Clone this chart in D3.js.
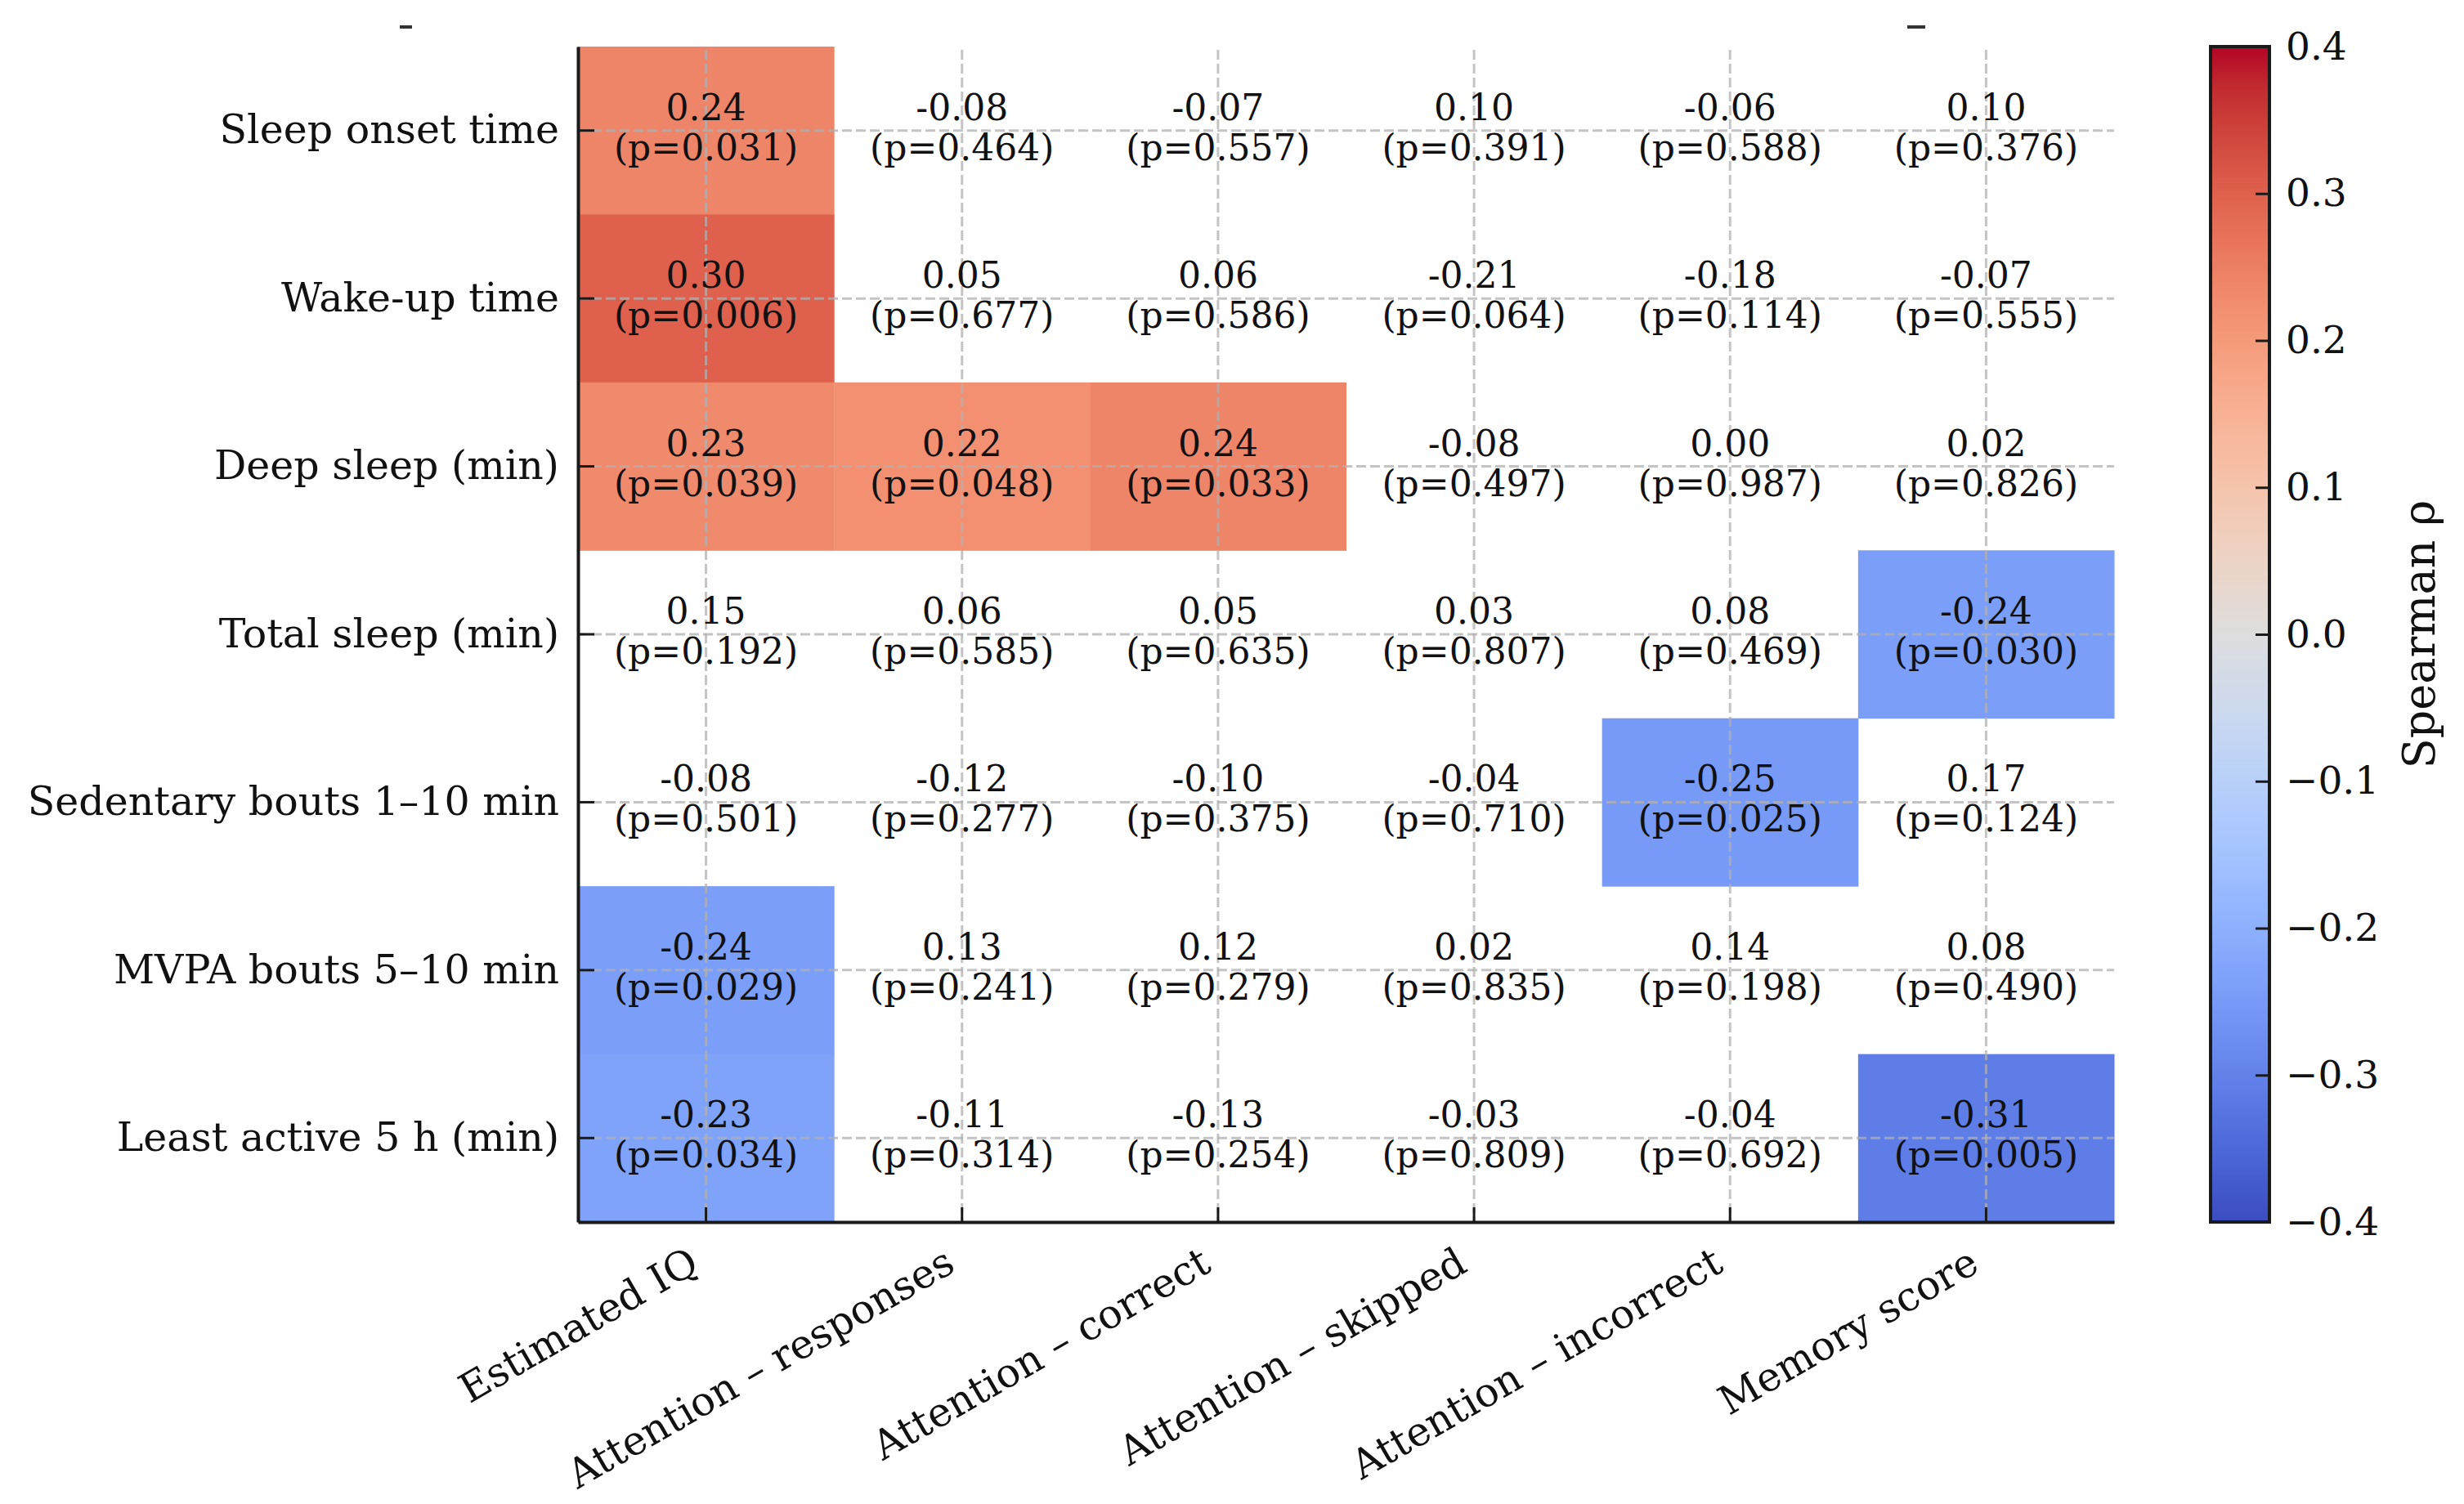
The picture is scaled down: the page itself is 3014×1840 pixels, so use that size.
<!DOCTYPE html>
<html>
<head>
<meta charset="utf-8">
<script src="https://cdn.jsdelivr.net/npm/d3@7"></script>
<style>
  body { margin: 0; background: #fff; }
  text { font-family: "DejaVu Serif", serif; fill: #111; }
</style>
</head>
<body>
<svg id="chart" width="3014" height="1840"></svg>
<script>
// -- data -- //
let rowLabels = ["Sleep onset time", "Wake-up time", "Deep sleep (min)", "Total sleep (min)",
                 "Sedentary bouts 1–10 min", "MVPA bouts 5–10 min", "Least active 5 h (min)"];
let colLabels = ["Estimated IQ", "Attention – responses", "Attention – correct",
                 "Attention – skipped", "Attention – incorrect", "Memory score"];

let rhoValues = [
  [ 0.24, -0.08, -0.07,  0.10, -0.06,  0.10],
  [ 0.30,  0.05,  0.06, -0.21, -0.18, -0.07],
  [ 0.23,  0.22,  0.24, -0.08,  0.00,  0.02],
  [ 0.15,  0.06,  0.05,  0.03,  0.08, -0.24],
  [-0.08, -0.12, -0.10, -0.04, -0.25,  0.17],
  [-0.24,  0.13,  0.12,  0.02,  0.14,  0.08],
  [-0.23, -0.11, -0.13, -0.03, -0.04, -0.31]
];
let pValues = [
  [0.031, 0.464, 0.557, 0.391, 0.588, 0.376],
  [0.006, 0.677, 0.586, 0.064, 0.114, 0.555],
  [0.039, 0.048, 0.033, 0.497, 0.987, 0.826],
  [0.192, 0.585, 0.635, 0.807, 0.469, 0.030],
  [0.501, 0.277, 0.375, 0.710, 0.025, 0.124],
  [0.029, 0.241, 0.279, 0.835, 0.198, 0.490],
  [0.034, 0.314, 0.254, 0.809, 0.692, 0.005]
];
let colorbarTicks = [-0.4, -0.3, -0.2, -0.1, 0.0, 0.1, 0.2, 0.3, 0.4];

// coolwarm colour stops (Moreland)
let coolwarm = ["#3b4cc0","#445acc","#4d68d7","#5775e1","#6282ea","#6c8ef1","#779af7","#82a5fb",
  "#8db0fe","#98b9ff","#a3c2ff","#aec9fd","#b8d0f9","#c2d5f4","#ccd9ee","#d5dbe6","#dddddd",
  "#e5d8d1","#ecd3c5","#f1ccb8","#f5c4ac","#f7bba0","#f7b194","#f7a687","#f49a7b","#f18d6f",
  "#ec7f63","#e57058","#de604d","#d55042","#cb3e38","#c0282f","#b40426"];

let svg = d3.select("#chart");

// -- layout -- //
let plotLeft = 707, plotRight = 2586, plotTop = 57, plotBottom = 1495;
let cbLeft = 2704, cbWidth = 72;

let xScale = d3.scaleBand().domain(colLabels).range([plotLeft, plotRight]);
let yScale = d3.scaleBand().domain(rowLabels).range([plotTop, plotBottom]);
let colorScale = d3.scaleLinear()
  .domain(coolwarm.map((c, i) => -0.4 + 0.8 * i / (coolwarm.length - 1)))
  .range(coolwarm)
  .clamp(true);

// -- flatten to cells -- //
let cells = [];
rowLabels.forEach((r, i) => {
  colLabels.forEach((c, j) => {
    cells.push({ row: r, col: c, rho: rhoValues[i][j], p: pValues[i][j] });
  });
});

// -- draw the significant cells, others stay white -- //
svg.append("g").selectAll("rect")
  .data(cells.filter(d => d.p < 0.05))
  .enter()
  .append("rect")
  .attr("x", d => xScale(d.col))
  .attr("y", d => yScale(d.row))
  .attr("width", xScale.bandwidth() + 0.5)
  .attr("height", yScale.bandwidth() + 0.5)
  .style("fill", d => colorScale(d.rho));

// -- dashed grid at tick positions -- //
let grid = svg.append("g")
  .style("stroke", "#b0b0b0")
  .style("stroke-opacity", 0.75)
  .style("stroke-width", 3)
  .style("stroke-dasharray", "12,5");
grid.selectAll(".vgrid")
  .data(colLabels)
  .enter()
  .append("line")
  .attr("x1", d => xScale(d) + xScale.bandwidth() / 2)
  .attr("x2", d => xScale(d) + xScale.bandwidth() / 2)
  .attr("y1", plotTop + 4)
  .attr("y2", plotBottom);
grid.selectAll(".hgrid")
  .data(rowLabels)
  .enter()
  .append("line")
  .attr("y1", d => yScale(d) + yScale.bandwidth() / 2)
  .attr("y2", d => yScale(d) + yScale.bandwidth() / 2)
  .attr("x1", plotLeft)
  .attr("x2", plotRight);

// -- annotations -- //
let ann = svg.append("g").selectAll("g")
  .data(cells)
  .enter()
  .append("g")
  .attr("transform", d => `translate(${xScale(d.col) + xScale.bandwidth() / 2}, ${yScale(d.row) + yScale.bandwidth() / 2})`)
  .attr("text-anchor", "middle")
  .style("font-size", "44px");
ann.append("text").attr("y", -13).text(d => d.rho.toFixed(2));
ann.append("text").attr("y", 36).text(d => `(p=${d.p.toFixed(3)})`);

// -- axes -- //
let yAxis = d3.axisLeft(yScale).tickSizeInner(-20).tickSizeOuter(0).tickPadding(23);
let xAxis = d3.axisBottom(xScale).tickSizeInner(-18).tickSizeOuter(0);

let gy = svg.append("g").attr("transform", `translate(${plotLeft},0)`).call(yAxis);
gy.selectAll("text").style("font-size", "49px").style("font-family", "DejaVu Serif").style("fill", "#111");

let gx = svg.append("g").attr("transform", `translate(0,${plotBottom})`).call(xAxis);
gx.selectAll("text")
  .attr("y", null).attr("dy", null)
  .attr("text-anchor", "end")
  .attr("transform", "translate(-6,59) rotate(-30)")
  .style("font-size", "49px").style("font-family", "DejaVu Serif").style("fill", "#111");

[gx, gy].forEach(g => {
  g.select(".domain").style("stroke", "#1a1a1a").style("stroke-width", 4);
  g.selectAll(".tick line").style("stroke", "#1a1a1a").style("stroke-width", 3);
});

// -- stray dashes at top -- //
svg.append("g").selectAll("line")
  .data([[489, 504], [2333, 2355]])
  .enter()
  .append("line")
  .attr("x1", d => d[0]).attr("x2", d => d[1])
  .attr("y1", 33).attr("y2", 33)
  .style("stroke", "#333").style("stroke-width", 4);

// -- colorbar -- //
let cbScale = d3.scaleLinear().domain([-0.4, 0.4]).range([plotBottom, plotTop]);
let defs = svg.append("defs");
let grad = defs.append("linearGradient")
  .attr("id", "cbgrad")
  .attr("x1", 0).attr("y1", 1).attr("x2", 0).attr("y2", 0);
grad.selectAll("stop")
  .data(d3.range(0, 1.0001, 1 / 64))
  .enter()
  .append("stop")
  .attr("offset", d => d)
  .attr("stop-color", d => colorScale(-0.4 + 0.8 * d));

svg.append("rect")
  .attr("x", cbLeft).attr("y", plotTop)
  .attr("width", cbWidth).attr("height", plotBottom - plotTop)
  .style("fill", "url(#cbgrad)")
  .style("stroke", "#1a1a1a").style("stroke-width", 4);

let cbAxis = d3.axisRight(cbScale).tickValues(colorbarTicks).tickFormat(d3.format(".1f"))
  .tickSizeInner(-17).tickSizeOuter(0).tickPadding(20);
let gcb = svg.append("g").attr("transform", `translate(${cbLeft + cbWidth},0)`).call(cbAxis);
gcb.select(".domain").remove();
gcb.selectAll(".tick line").style("stroke", "#1a1a1a").style("stroke-width", 3);
gcb.selectAll("text").style("font-size", "47px").style("font-family", "DejaVu Serif").style("fill", "#111");

svg.append("text")
  .attr("transform", `translate(2978, ${(plotTop + plotBottom) / 2}) rotate(-90)`)
  .attr("text-anchor", "middle")
  .style("font-size", "54px")
  .text("Spearman ρ");
</script>
</body>
</html>
